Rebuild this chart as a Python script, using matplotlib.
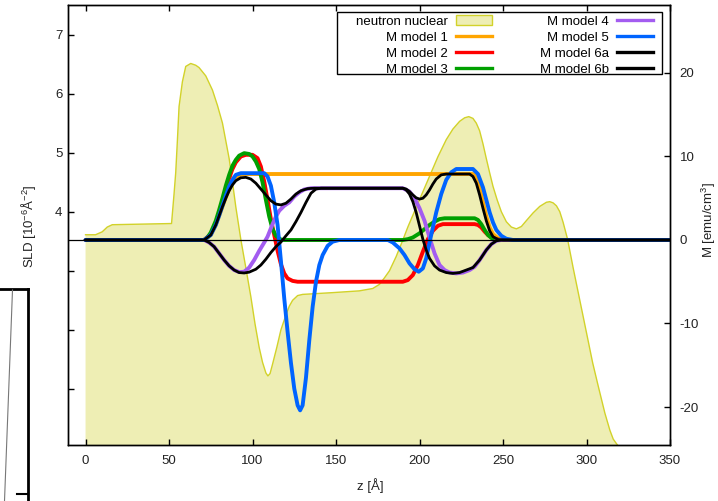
import matplotlib
matplotlib.use('Agg')
import matplotlib.pyplot as plt
from matplotlib.patches import Patch, Rectangle
from matplotlib.lines import Line2D

plt.rcParams['font.family'] = ['Liberation Sans', 'DejaVu Sans']
plt.rcParams['mathtext.fontset'] = 'custom'
plt.rcParams['mathtext.rm'] = 'Liberation Sans'
plt.rcParams['mathtext.it'] = 'Liberation Sans:italic'
plt.rcParams['axes.unicode_minus'] = False

# ---------------- data ----------------
# neutron nuclear SLD profile (left axis, 10^-6 A^-2)
sld_z = [0, 6, 10, 13, 16, 51.5, 53, 54, 55, 56, 58, 60, 63, 66, 68, 72, 76, 79, 82, 84, 86, 88, 90, 93,
         96, 99, 101.5, 104, 106, 108, 109.2, 110.5, 112, 114.6, 117, 120, 122, 124, 127, 130, 148, 164,
         172, 176, 179, 182, 186, 190, 193, 196, 201, 206, 211, 216, 220, 224, 227, 229.5, 232, 234, 236,
         238, 240, 242, 244, 246.5, 249, 252, 255, 258, 261, 264, 268, 272, 276, 278, 280, 282, 284, 286,
         288.7, 292, 296, 300, 303.7, 307, 311, 314, 316, 318, 320, 350]
sld_v = [3.61, 3.61, 3.66, 3.74, 3.78, 3.80, 4.3, 4.66, 5.2, 5.78, 6.2, 6.46, 6.51, 6.48, 6.44, 6.3, 6.06, 5.8,
         5.5, 5.2, 4.9, 4.5, 4.08, 3.53, 3.05, 2.56, 2.1, 1.7, 1.45, 1.27, 1.22, 1.26, 1.42, 1.71, 2.0, 2.25,
         2.4, 2.5, 2.58, 2.6, 2.63, 2.66, 2.7, 2.77, 2.88, 3.0, 3.24, 3.52, 3.74, 3.94, 4.27, 4.6, 4.93, 5.22,
         5.4, 5.53, 5.59, 5.61, 5.58, 5.5, 5.37, 5.15, 4.9, 4.66, 4.43, 4.2, 4.0, 3.83, 3.74, 3.71, 3.75,
         3.85, 3.98, 4.09, 4.16, 4.17, 4.15, 4.1, 4.0, 3.82, 3.53, 3.05, 2.5, 1.95, 1.44, 1.05, 0.59, 0.3,
         0.15, 0.07, 0.0, 0.0]

# magnetization models (right axis, emu/cm^3)
m1_z = [0, 71, 75, 78, 80, 82, 84, 86, 88, 90, 93, 96, 232, 234, 236, 238, 240, 242, 244, 247, 250, 350]
m1_v = [0, 0, 0.6, 1.8, 2.9, 4.0, 5.1, 6.1, 6.9, 7.5, 7.85, 7.9, 7.9, 7.5, 6.2, 4.5, 2.8, 1.5, 0.7, 0.2, 0, 0]

m2_z = [0, 71, 75, 78, 80, 82, 84, 86, 88, 90, 93, 96, 100, 103, 105, 107, 109, 111, 113, 115, 117, 119,
        121, 124, 127, 190, 193, 196, 199, 202, 205, 208, 211, 214, 233, 235, 237, 239, 241, 243, 246, 249, 350]
m2_v = [0, 0, 0.7, 2.0, 3.2, 4.6, 6.0, 7.4, 8.5, 9.3, 10.0, 10.2, 10.2, 9.8, 8.8, 7.0, 4.8, 2.5, 0.6, -1.3,
        -2.9, -4.0, -4.6, -4.9, -5.0, -5.0, -4.8, -4.2, -3.0, -1.4, 0.1, 1.1, 1.7, 1.9, 1.9, 1.8, 1.5, 1.0,
        0.6, 0.3, 0.1, 0, 0]

m3_z = [0, 71, 73, 75, 78, 80, 82, 84, 86, 88, 90, 92, 95, 98, 100, 102, 104, 106, 108, 110, 112, 114, 117,
        119, 190, 193, 196, 200, 203, 206, 209, 212, 215, 233, 235, 237, 239, 241, 243, 246, 249, 350]
m3_v = [0, 0, 0.3, 0.9, 2.3, 3.6, 5.0, 6.5, 7.8, 8.9, 9.6, 10.1, 10.4, 10.3, 10.0, 9.4, 8.5, 6.9, 4.8, 2.8,
        1.3, 0.5, 0.05, 0, 0, 0.1, 0.3, 0.8, 1.3, 1.8, 2.2, 2.5, 2.6, 2.6, 2.4, 1.9, 1.2, 0.6, 0.25, 0.05, 0, 0]

m4_z = [0, 71, 74, 77, 80, 83, 86, 89, 92, 95, 98, 101, 104, 107, 109, 112, 114, 116, 119, 122, 125, 128,
        131, 135, 190, 194, 197, 200, 203, 206, 209, 212, 215, 218, 222, 226, 230, 233, 236, 240, 243, 246,
        249, 350]
m4_v = [0, 0, -0.3, -0.8, -1.6, -2.4, -3.1, -3.6, -3.85, -3.8, -3.3, -2.4, -1.3, -0.3, 0.4, 1.9, 2.8, 3.5,
        4.1, 4.5, 5.2, 5.7, 6.05, 6.2, 6.2, 5.8, 5.0, 3.8, 2.3, 0.3, -1.6, -3.0, -3.6, -3.9, -4.0, -3.9, -3.6,
        -3.2, -2.4, -1.2, -0.5, -0.1, 0, 0]

m5_z = [0, 71, 75, 78, 80, 82, 84, 86, 88, 90, 93, 107, 109, 111, 113, 115, 117, 119, 121, 123, 125, 127,
        128.5, 130, 132, 134, 136, 138, 140, 142, 145, 148, 152, 181, 184, 188, 191, 194, 197, 199.5, 202,
        204, 206, 208, 210, 213, 216, 219, 222, 232, 235, 238, 240, 242, 244, 246, 249, 252, 256, 350]
m5_v = [0, 0, 0.6, 1.8, 2.9, 4.1, 5.3, 6.4, 7.2, 7.8, 8.0, 8.0, 7.6, 6.5, 4.5, 1.8, -2.5, -7.0, -11.0,
        -14.7, -17.8, -19.8, -20.4, -19.8, -16.5, -12.0, -8.0, -5.0, -3.0, -1.8, -0.7, -0.2, 0, 0, -0.3,
        -1.0, -1.8, -2.8, -3.5, -3.8, -3.4, -2.2, -0.3, 1.5, 3.3, 5.5, 7.2, 8.1, 8.5, 8.5, 7.9, 6.3, 4.8,
        3.3, 2.1, 1.2, 0.5, 0.15, 0, 0]

m6a_z = [0, 71, 75, 78, 80, 82, 84, 86, 88, 90, 93, 96, 99, 102, 105, 108, 111, 114, 117, 120, 123, 126,
         129, 133, 137, 190, 192, 194, 196, 198, 200, 202, 204, 206, 208, 210, 213, 216, 230, 232, 234, 236,
         238, 240, 242, 244, 247, 250, 350]
m6a_v = [0, 0, 0.6, 1.8, 2.9, 4.0, 5.0, 5.9, 6.6, 7.1, 7.45, 7.5, 7.3, 6.8, 6.1, 5.4, 4.7, 4.3, 4.2, 4.4,
         4.9, 5.5, 5.9, 6.15, 6.2, 6.2, 6.1, 5.8, 5.4, 5.05, 4.9, 5.0, 5.4, 6.0, 6.7, 7.3, 7.8, 7.9, 7.9, 7.6,
         6.8, 5.4, 3.8, 2.3, 1.1, 0.4, 0.05, 0, 0]

m6b_z = [0, 71, 74, 77, 80, 83, 86, 89, 92, 95, 98, 102, 105, 108, 111, 114, 117, 120, 123, 126, 129, 132,
         135, 138, 141, 190, 192, 194, 196, 198, 200, 202, 204, 206, 209, 212, 216, 220, 224, 228, 232, 236,
         240, 243, 246, 249, 350]
m6b_v = [0, 0, -0.3, -0.8, -1.6, -2.4, -3.1, -3.6, -3.9, -3.95, -3.85, -3.5, -3.0, -2.3, -1.5, -0.8, -0.25,
         0.5, 1.2, 2.2, 3.3, 4.5, 5.6, 6.1, 6.2, 6.2, 6.0, 5.5, 4.6, 3.3, 1.7, 0.1, -1.2, -2.2, -3.1, -3.6,
         -3.9, -4.0, -3.9, -3.6, -3.3, -2.4, -1.2, -0.5, -0.1, 0, 0]

labels = ['neutron nuclear', 'M model 1', 'M model 2', 'M model 3',
          'M model 4', 'M model 5', 'M model 6a', 'M model 6b']
x_ticks = [0, 50, 100, 150, 200, 250, 300, 350]
left_ticks = [1, 2, 3, 4, 5, 6, 7]
left_tick_labels = ['', '', '', '4', '5', '6', '7']
right_ticks = [-20, -10, 0, 10, 20]

# ---------------- style ----------------
fill_face = '#eeeeb4'
fill_edge = '#d2d22a'
colors = ['#ffa500', '#ff0000', '#00a000', '#a35cf0', '#0064ff', '#000000', '#000000']
lws = [2.8, 2.8, 2.8, 2.8, 2.8, 2.0, 2.0]
fs = 9.5

W, H = 718, 501
fig = plt.figure(figsize=(W / 100, H / 100), dpi=100)
ax = fig.add_axes([68 / W, 1 - 445 / H, (670 - 68) / W, 440 / H])
ax.set_xlim(-10.5, 350)
ax.set_ylim(0.05, 7.5)

ax.fill_between(sld_z, 0, sld_v, facecolor=fill_face, edgecolor='none', zorder=1)
ax.plot(sld_z, sld_v, color=fill_edge, lw=1.0, zorder=2)

ax2 = ax.twinx()
ax2.set_ylim(-24.55, 28.14)
series = [(m1_z, m1_v), (m2_z, m2_v), (m3_z, m3_v), (m4_z, m4_v),
          (m5_z, m5_v), (m6a_z, m6a_v), (m6b_z, m6b_v)]
handles = [Patch(facecolor=fill_face, edgecolor=fill_edge, lw=1)]
for (zz, vv), c, lw in zip(series, colors, lws):
    ax2.plot(zz, vv, color=c, lw=lw, solid_joinstyle='round', solid_capstyle='round')
    handles.append(Line2D([], [], color=c, lw=2.4))
ax2.axhline(0, color='black', lw=0.9, zorder=10)

for a in (ax, ax2):
    for s in a.spines.values():
        s.set_linewidth(1.0)

ax.set_xticks(x_ticks)
ax.tick_params(axis='x', direction='in', top=True, length=4.5, width=1, pad=7,
               labelsize=fs, labelcolor='#222222')
ax.set_yticks(left_ticks)
ax.set_yticklabels(left_tick_labels)
ax.tick_params(axis='y', direction='in', right=False, length=4.5, width=1, pad=4,
               labelsize=fs, labelcolor='#222222')
ax2.set_yticks(right_ticks)
ax2.tick_params(axis='y', direction='in', left=False, length=4.5, width=1, pad=7,
                labelsize=fs, labelcolor='#222222')

leg = ax2.legend(handles, labels, ncol=2, markerfirst=False, frameon=False,
                 loc='upper right', bbox_to_anchor=(653 / W, 1 - 15.5 / H),
                 bbox_transform=fig.transFigure, borderpad=0, borderaxespad=0,
                 handlelength=2.73, handletextpad=0.6, columnspacing=3.64,
                 labelspacing=0.28, fontsize=fs, handleheight=0.7)
fig.add_artist(Rectangle((337 / W, 1 - 74 / H), 325 / W, 62 / H, transform=fig.transFigure,
                         fill=False, edgecolor='black', lw=1.0))

fig.text(370 / W, 1 - 486 / H, 'z [Å]', ha='center', va='center', fontsize=fs, color='#222222')
fig.text(29 / W, 1 - 226 / H, 'SLD [10$^{-6}$Å$^{-2}$]', rotation=90, ha='center', va='center',
         fontsize=fs, color='#222222')
fig.text(709 / W, 1 - 220 / H, 'M [emu/cm$^{3}$]', rotation=90, ha='center', va='center',
         fontsize=fs, color='#222222')

# fragment of an overlapping panel at the lower-left edge
fig.add_artist(Line2D([0, 28 / W], [1 - 289 / H] * 2, color='black', lw=2, transform=fig.transFigure))
fig.add_artist(Line2D([27.5 / W] * 2, [1 - 289 / H, 0], color='black', lw=2, transform=fig.transFigure))
fig.add_artist(Line2D([12.5 / W, 4.5 / W], [1 - 290 / H, 0], color='#777777', lw=0.8,
                      transform=fig.transFigure))
fig.add_artist(Line2D([17 / W, 27.5 / W], [1 - 494 / H] * 2, color='black', lw=1.5,
                      transform=fig.transFigure))

fig.savefig('out.png', dpi=100)
